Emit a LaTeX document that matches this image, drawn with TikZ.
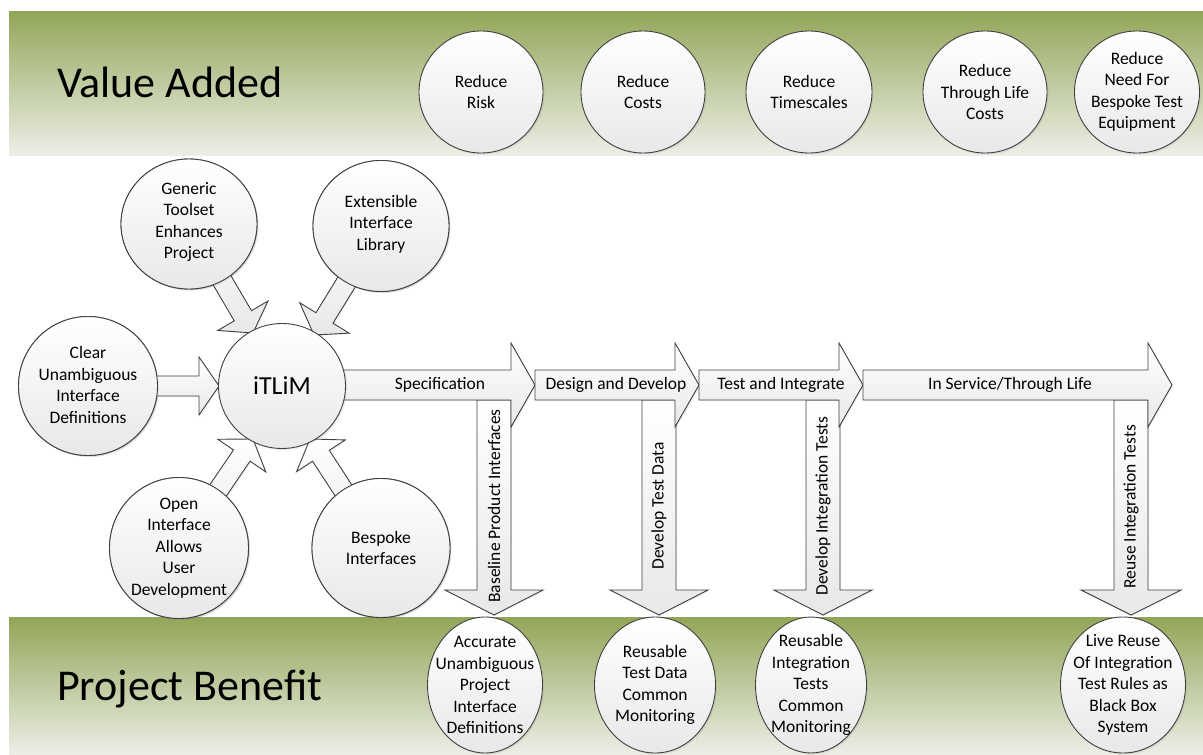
\documentclass[tikz,border=0pt]{standalone}
\usepackage{fontspec}
\setmainfont{Carlito}
\usetikzlibrary{calc,shapes.geometric,shadows}

\definecolor{oliveTop}{RGB}{146,166,88}
\definecolor{oliveBot}{RGB}{236,238,230}
\definecolor{edge}{RGB}{64,64,64}
\definecolor{greyEnd}{RGB}{232,232,232}
\definecolor{greyMid}{RGB}{249,249,249}

\tikzset{
  band/.style={top color=oliveTop, bottom color=oliveBot, draw=none,
    drop shadow={shadow xshift=0pt, shadow yshift=-2pt, opacity=0.15}},
  disc/.style={ellipse, draw=edge, line width=0.9pt, top color=white,
    middle color=greyMid, bottom color=greyEnd, inner sep=0pt, outer sep=0pt,
    drop shadow={shadow xshift=1.5pt, shadow yshift=-1.5pt, opacity=0.15}},
  disctext/.style={align=center, font=\fontsize{17.5}{21.5}\selectfont, inner sep=0pt},
  blk/.style={draw=edge, line width=0.9pt, line join=miter, top color=white,
    middle color=greyMid, bottom color=greyEnd,
    drop shadow={shadow xshift=1.2pt, shadow yshift=-1.2pt, opacity=0.12}},
  lbl/.style={font=\fontsize{17.5}{21.5}\selectfont, inner sep=0pt},
  title/.style={font=\fontsize{44}{50}\selectfont, anchor=base west, inner sep=0pt},
}

% block arrow from tail #2 to tip #3:
% #1 style, #4 shaft half-width, #5 head half-width, #6 head length
\newcommand\blockarrow[6]{%
  \coordinate (ba-b) at ($(#3)!#6!(#2)$);
  \path[#1] ($(#2)!#4!90:(#3)$) -- ($(ba-b)!#4!-90:(#2)$)
    -- ($(ba-b)!#5!-90:(#2)$) -- (#3) -- ($(ba-b)!#5!90:(#2)$)
    -- ($(ba-b)!#4!90:(#2)$) -- ($(#2)!#4!-90:(#3)$) -- cycle;}

\begin{document}
\begin{tikzpicture}[x=1pt,y=-1pt]
\useasboundingbox (0,0) rectangle (1203,755);

% green bands
\path[band] (9,11) rectangle (1203,154);
\path[band] (9,617) rectangle (1203,754);
\node[title] (vaTitle) at (57,97) {Value Added};
\node[title] (pbTitle) at (57,700) {Project Benefit};

% anchor points of the process arrows
\coordinate (fSpecS) at (300,385);
\coordinate (fSpecT) at (535,385);
\coordinate (fDesT) at (699,385);
\coordinate (fTestT) at (863,385);
\coordinate (fServT) at (1172,385);
\coordinate (dBaseS) at (494,400);  \coordinate (dBaseT) at (494,615);
\coordinate (dDataS) at (659,400);  \coordinate (dDataT) at (659,615);
\coordinate (dIntS) at (823,400);   \coordinate (dIntT) at (823,615);
\coordinate (dReuS) at (1131,400);  \coordinate (dReuT) at (1131,615);

% downward arrows
\blockarrow{blk}{dBaseS}{dBaseT}{17pt}{49pt}{25pt}
\blockarrow{blk}{dDataS}{dDataT}{17pt}{49pt}{25pt}
\blockarrow{blk}{dIntS}{dIntT}{17pt}{49pt}{25pt}
\blockarrow{blk}{dReuS}{dReuT}{17pt}{50pt}{25pt}

% process arrows
\blockarrow{blk}{fSpecS}{fSpecT}{15pt}{42pt}{24pt}
\blockarrow{blk}{fSpecT}{fDesT}{15pt}{42pt}{24pt}
\blockarrow{blk}{fDesT}{fTestT}{15pt}{42pt}{24pt}
\blockarrow{blk}{fTestT}{fServT}{15pt}{42pt}{24pt}

% contributing circles
\node[disc, minimum width=136, minimum height=130] (mGeneric) at (189,224) {};
\node[disc, minimum width=136, minimum height=131] (mExt) at (381,226) {};
\node[disc, minimum width=139, minimum height=139] (mClear) at (88,386) {};
\node[disc, minimum width=139, minimum height=141] (mOpen) at (179,548) {};
\node[disc, minimum width=138, minimum height=139] (mBespoke) at (381,548) {};

% tips on the hub
\coordinate (hUL) at (253,333);
\coordinate (hUR) at (314,335);
\coordinate (hL) at (219,386);
\coordinate (hLL) at (253,439);
\coordinate (hLR) at (310,439);

\blockarrow{blk}{mGeneric}{hUL}{10pt}{29pt}{20pt}
\blockarrow{blk}{mExt}{hUR}{10pt}{29pt}{20pt}
\blockarrow{blk}{mClear}{hL}{10pt}{29pt}{20pt}
\blockarrow{blk}{mOpen}{hLL}{10pt}{29pt}{20pt}
\blockarrow{blk}{mBespoke}{hLR}{10pt}{29pt}{20pt}

% redraw source circles above arrow tails
\node[disc, minimum width=136, minimum height=130] (mGenericC) at (mGeneric) {};
\node[disc, minimum width=136, minimum height=131] (mExtC) at (mExt) {};
\node[disc, minimum width=139, minimum height=139] (mClearC) at (mClear) {};
\node[disc, minimum width=139, minimum height=141] (mOpenC) at (mOpen) {};
\node[disc, minimum width=138, minimum height=139] (mBespokeC) at (mBespoke) {};

% hub
\node[disc, minimum width=127, minimum height=125] (hub) at (282,386) {};
\node[disctext, font=\fontsize{26}{30}\selectfont] (hubT) at (hub) {iTLiM};

\node[disctext] (mGenericT) at (189,222) {Generic\\Toolset\\Enhances\\Project};
\node[disctext] (mExtT) at (381,224) {Extensible\\Interface\\Library};
\node[disctext] (mClearT) at (88,385) {Clear\\Unambiguous\\Interface\\Definitions};
\node[disctext] (mOpenT) at (179,548) {Open\\Interface\\Allows\\User\\Development};
\node[disctext] (mBespokeT) at (381,548) {Bespoke\\Interfaces};

% value circles
\node[disc, minimum width=124, minimum height=122] (vRisk) at (481,92) {};
\node[disc, minimum width=124, minimum height=122] (vCost) at (643,92) {};
\node[disc, minimum width=126, minimum height=122] (vTime) at (809,92) {};
\node[disc, minimum width=124, minimum height=122] (vLife) at (985,92) {};
\node[disc, minimum width=125, minimum height=122] (vNeed) at (1137,92) {};
\node[disctext] (vRiskT) at (vRisk) {Reduce\\Risk};
\node[disctext] (vCostT) at (vCost) {Reduce\\Costs};
\node[disctext] (vTimeT) at (vTime) {Reduce\\Timescales};
\node[disctext] (vLifeT) at (vLife) {Reduce\\Through Life\\Costs};
\node[disctext] (vNeedT) at (vNeed) {Reduce\\Need For\\Bespoke Test\\Equipment};

% benefit circles
\node[disc, minimum width=115, minimum height=136] (bAcc) at (485,685) {};
\node[disc, minimum width=121, minimum height=136] (bData) at (655,685) {};
\node[disc, minimum width=111, minimum height=136] (bInt) at (811,685) {};
\node[disc, minimum width=125, minimum height=136] (bLive) at (1123,685) {};
\node[disctext] (bAccT) at (bAcc) {Accurate\\Unambiguous\\Project\\Interface\\Definitions};
\node[disctext] (bDataT) at (bData) {Reusable\\Test Data\\Common\\Monitoring};
\node[disctext] (bIntT) at (bInt) {Reusable\\Integration\\Tests\\Common\\Monitoring};
\node[disctext] (bLiveT) at (bLive) {Live Reuse\\Of Integration\\Test Rules as\\Black Box\\System};

% arrow captions
\node[lbl] (tSpec) at (440,385) {Specification};
\node[lbl] (tDes) at (616,385) {Design and Develop};
\node[lbl] (tTest) at (781,385) {Test and Integrate};
\node[lbl] (tServ) at (1010,385) {In Service/Through Life};
\node[lbl, rotate=90] (tBase) at (494,506) {Baseline Product Interfaces};
\node[lbl, rotate=90] (tData) at (659,506) {Develop Test Data};
\node[lbl, rotate=90] (tInt) at (823,506) {Develop Integration Tests};
\node[lbl, rotate=90] (tReu) at (1131,507) {Reuse Integration Tests};
\end{tikzpicture}
\end{document}
